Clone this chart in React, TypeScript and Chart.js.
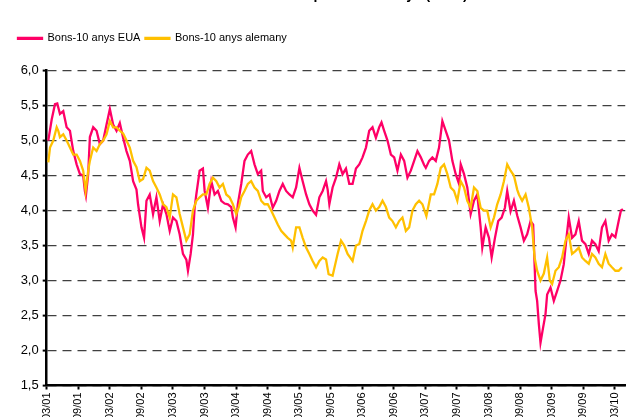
import { useEffect, useRef } from 'react';
import { Chart, registerables } from 'chart.js';

Chart.register(...registerables);

// ---- data ----
const TITLE = "Rendiment del deute públic a 10 anys (en %)";
const SERIES_NAMES = ['Bons-10 anys EUA', 'Bons-10 anys alemany'];
const SERIES_COLORS = ['#FF0066', '#FFC000'];

// x tick labels, one every 6 months starting 03/01
const X_TICK_LABELS = ['03/01', '09/01', '03/02', '09/02', '03/03', '09/03', '03/04', '09/04', '03/05', '09/05',
  '03/06', '09/06', '03/07', '09/07', '03/08', '09/08', '03/09', '09/09', '03/10'];
const Y_TICKS = [1.5, 2.0, 2.5, 3.0, 3.5, 4.0, 4.5, 5.0, 5.5, 6.0];

// months since 03/01
const US_MONTHS = [
  0.30, 0.95, 1.57, 2.01, 2.52, 3.15, 3.79, 4.42, 5.05, 5.69,
  6.32, 6.94, 7.26, 7.45, 7.89, 8.21, 8.84, 9.48, 10.11, 10.74,
  11.38, 12.01, 12.63, 13.28, 13.90, 14.53, 15.17, 15.80, 16.43, 17.07,
  17.37, 18.02, 18.51, 18.97, 19.59, 20.22, 20.86, 21.49, 22.12, 22.76,
  23.39, 24.01, 24.66, 25.28, 25.91, 26.55, 26.86, 27.37, 27.81, 28.13,
  28.45, 29.08, 29.70, 30.03, 30.65, 31.30, 31.92, 32.55, 33.19, 33.82,
  34.45, 35.09, 35.40, 35.91, 36.34, 36.99, 37.61, 38.24, 38.88, 39.51,
  40.14, 40.78, 41.09, 41.73, 42.36, 42.98, 43.63, 44.25, 44.88, 45.52,
  46.15, 46.78, 47.42, 48.05, 48.67, 49.32, 49.94, 50.57, 51.21, 51.84,
  52.47, 53.11, 53.42, 53.74, 54.36, 55.01, 55.63, 56.26, 56.90, 57.53,
  58.16, 58.80, 59.43, 60.05, 60.70, 61.32, 61.95, 62.59, 63.22, 63.66,
  64.17, 64.80, 65.44, 66.07, 66.69, 67.34, 67.97, 68.59, 69.23, 69.86,
  70.49, 71.13, 71.76, 72.08, 72.71, 73.33, 73.98, 74.60, 75.23, 75.87,
  76.50, 77.13, 77.77, 78.40, 78.72, 79.35, 79.97, 80.61, 81.24, 81.87,
  82.51, 82.82, 83.46, 84.09, 84.60, 85.23, 85.85, 86.50, 87.12, 87.56,
  88.20, 88.83, 89.46, 90.10, 90.73, 91.35, 92.00, 92.49, 92.95, 93.25,
  93.57, 93.89, 94.39, 94.84, 95.15, 95.79, 96.42, 97.04, 97.69, 98.31,
  98.83, 99.26, 99.89, 100.53, 101.16, 101.78, 102.43, 103.06, 103.68, 104.32,
  104.95, 105.58, 106.22, 106.85, 107.47, 108.12, 108.75, 109.18, 109.56,
];
const US_YIELDS = [
  5.00, 5.30, 5.52, 5.53, 5.38, 5.42, 5.19, 5.14, 4.85, 4.66,
  4.52, 4.50, 4.28, 4.21, 4.52, 5.05, 5.19, 5.14, 4.95, 5.00,
  5.23, 5.45, 5.23, 5.14, 5.25, 5.04, 4.85, 4.71, 4.42, 4.30,
  4.09, 3.76, 3.61, 4.14, 4.23, 3.95, 4.19, 3.85, 4.09, 3.95,
  3.71, 3.90, 3.85, 3.66, 3.38, 3.30, 3.14, 3.38, 3.66, 4.04,
  4.23, 4.57, 4.60, 4.28, 4.04, 4.42, 4.23, 4.28, 4.14, 4.10,
  4.09, 4.05, 3.90, 3.76, 4.09, 4.38, 4.71, 4.80, 4.85, 4.66,
  4.52, 4.57, 4.28, 4.19, 4.23, 4.04, 4.14, 4.28, 4.38, 4.28,
  4.23, 4.19, 4.33, 4.61, 4.42, 4.23, 4.09, 4.00, 3.94, 4.19,
  4.28, 4.42, 4.30, 4.09, 4.33, 4.47, 4.66, 4.52, 4.60, 4.38,
  4.38, 4.60, 4.66, 4.76, 4.90, 5.14, 5.19, 5.04, 5.19, 5.26,
  5.14, 5.00, 4.80, 4.76, 4.57, 4.80, 4.71, 4.47, 4.57, 4.71,
  4.85, 4.76, 4.65, 4.61, 4.71, 4.76, 4.71, 4.90, 5.28, 5.14,
  5.00, 4.71, 4.52, 4.38, 4.66, 4.52, 4.33, 3.95, 4.14, 4.23,
  3.76, 3.47, 3.76, 3.61, 3.33, 3.61, 3.85, 3.90, 4.04, 4.28,
  3.99, 4.14, 3.93, 3.76, 3.57, 3.66, 3.85, 3.80, 2.85, 2.71,
  2.38, 2.11, 2.33, 2.52, 2.80, 2.90, 2.71, 2.85, 3.00, 3.23,
  3.61, 3.90, 3.61, 3.66, 3.85, 3.57, 3.52, 3.38, 3.57, 3.52,
  3.42, 3.76, 3.85, 3.57, 3.66, 3.62, 3.85, 4.00, 4.02,
];

const DE_MONTHS = [
  0.30, 0.63, 1.25, 1.90, 2.20, 2.52, 3.15, 3.79, 4.42, 5.05,
  5.69, 6.32, 6.94, 7.40, 7.89, 8.21, 8.84, 9.48, 10.11, 10.74,
  11.38, 12.01, 12.63, 13.28, 13.90, 14.53, 15.17, 15.80, 16.43, 17.07,
  17.70, 18.32, 18.97, 19.59, 20.22, 20.86, 21.49, 22.12, 22.76, 23.39,
  24.01, 24.66, 25.28, 25.91, 26.55, 27.18, 27.81, 28.45, 29.08, 29.70,
  30.35, 30.97, 31.60, 32.25, 32.87, 33.50, 34.14, 34.77, 35.40, 36.04,
  36.53, 36.99, 37.61, 38.24, 38.88, 39.51, 40.14, 40.78, 41.41, 42.03,
  42.68, 43.31, 43.93, 44.58, 45.20, 45.83, 46.47, 46.78, 47.42, 48.05,
  48.67, 49.32, 49.94, 50.57, 51.21, 51.84, 52.47, 53.11, 53.60, 54.36,
  55.31, 55.96, 56.58, 57.21, 58.16, 58.80, 59.43, 60.05, 60.70, 61.32,
  61.95, 62.59, 63.22, 63.85, 64.49, 65.12, 65.74, 66.39, 67.01, 67.64,
  68.29, 68.91, 69.54, 70.18, 70.81, 71.44, 72.19, 73.03, 73.65, 74.28,
  74.92, 75.55, 76.18, 76.82, 77.45, 78.07, 78.72, 79.35, 79.97, 80.61,
  81.24, 81.87, 82.51, 83.14, 83.76, 84.41, 85.04, 85.66, 86.31, 86.93,
  87.56, 88.20, 88.83, 89.46, 89.78, 90.40, 91.05, 91.67, 92.30, 92.76,
  93.25, 93.89, 94.52, 95.15, 95.66, 96.10, 96.74, 97.37, 98.00, 98.64,
  99.26, 99.89, 100.53, 101.16, 101.78, 102.43, 103.06, 103.68, 104.32, 104.95,
  105.58, 106.22, 106.85, 107.47, 108.12, 108.75, 109.37,
];
const DE_YIELDS = [
  4.69, 4.90, 5.00, 5.19, 5.14, 5.05, 5.09, 5.00, 4.90, 4.80,
  4.80, 4.71, 4.57, 4.28, 4.57, 4.71, 4.90, 4.85, 4.95, 5.00,
  5.09, 5.28, 5.19, 5.19, 5.14, 5.10, 5.00, 4.90, 4.71, 4.62,
  4.42, 4.45, 4.61, 4.57, 4.42, 4.33, 4.23, 4.09, 4.05, 3.90,
  4.23, 4.19, 3.95, 3.76, 3.57, 3.66, 4.00, 4.14, 4.19, 4.23,
  4.23, 4.38, 4.47, 4.42, 4.33, 4.38, 4.23, 4.19, 4.09, 3.95,
  4.05, 4.19, 4.28, 4.38, 4.42, 4.33, 4.28, 4.14, 4.09, 4.09,
  4.00, 3.90, 3.80, 3.71, 3.66, 3.61, 3.57, 3.47, 3.76, 3.76,
  3.61, 3.47, 3.38, 3.28, 3.19, 3.28, 3.33, 3.30, 3.09, 3.07,
  3.38, 3.57, 3.50, 3.38, 3.28, 3.50, 3.52, 3.71, 3.85, 4.00,
  4.09, 4.00, 4.05, 4.14, 4.05, 3.90, 3.85, 3.76, 3.85, 3.90,
  3.71, 3.76, 4.00, 4.09, 4.14, 4.09, 3.92, 4.23, 4.23, 4.38,
  4.61, 4.66, 4.52, 4.33, 4.28, 4.14, 4.42, 4.33, 4.14, 4.04,
  4.33, 4.28, 4.04, 4.00, 4.00, 3.76, 3.90, 4.09, 4.23, 4.42,
  4.66, 4.57, 4.50, 4.30, 4.23, 4.14, 4.23, 4.04, 3.76, 3.33,
  3.14, 3.00, 3.10, 3.33, 3.00, 2.95, 3.14, 3.19, 3.33, 3.57,
  3.66, 3.38, 3.42, 3.47, 3.33, 3.28, 3.24, 3.38, 3.33, 3.24,
  3.19, 3.38, 3.24, 3.19, 3.14, 3.14, 3.19,
];

const X_MAX = 110;

const FONT = "'Liberation Sans', Arial, sans-serif";

export default function App() {
  const ref = useRef<HTMLCanvasElement | null>(null);

  useEffect(() => {
    if (!ref.current) return;
    const legendGap = {
      id: 'legendGap',
      afterInit(chart: any) {
        const lg = chart.legend;
        if (!lg) return;
        const orig = lg.fit;
        lg.fit = function (this: any) {
          orig.call(this);
          this.height += 16.7;
        };
      },
    };

    const chart = new Chart(ref.current, {
      type: 'line',
      data: {
        datasets: [
          {
            label: SERIES_NAMES[0],
            data: US_MONTHS.map((m, i) => ({ x: m, y: US_YIELDS[i] })),
            borderColor: SERIES_COLORS[0],
            backgroundColor: SERIES_COLORS[0],
            borderWidth: 2.3,
            pointRadius: 0,
            tension: 0,
            fill: false,
            order: 1,
          },
          {
            label: SERIES_NAMES[1],
            data: DE_MONTHS.map((m, i) => ({ x: m, y: DE_YIELDS[i] })),
            borderColor: SERIES_COLORS[1],
            backgroundColor: SERIES_COLORS[1],
            borderWidth: 2.3,
            pointRadius: 0,
            tension: 0,
            fill: false,
            order: 0,
          },
        ],
      },
      options: {
        animation: false,
        responsive: true,
        maintainAspectRatio: false,
        devicePixelRatio: 1,
        layout: { padding: { left: 13, right: 4.4, top: 0, bottom: 0 } },
        plugins: {
          title: {
            display: true,
            text: TITLE,
            color: '#000',
            font: { family: FONT, size: 14, weight: 'bold', lineHeight: 0.85 },
            padding: { top: 0, bottom: 27 },
          },
          legend: {
            display: true,
            position: 'top',
            align: 'start',
            labels: {
              boxWidth: 24,
              boxHeight: 1,
              padding: 5,
              color: '#000',
              font: { family: FONT, size: 11 },
              sort: (a: any, b: any) => a.datasetIndex - b.datasetIndex,
            },
          },
          tooltip: { enabled: false },
        },
        scales: {
          x: {
            type: 'linear',
            min: 0,
            max: X_MAX,
            afterFit: (scale: any) => { scale.height = 63.5; },
            afterBuildTicks: (scale: any) => {
              scale.ticks = X_TICK_LABELS.map((_, i) => ({ value: i * 6 }));
            },
            ticks: {
              autoSkip: false,
              maxRotation: 90,
              minRotation: 90,
              padding: 3,
              color: '#000',
              font: { family: FONT, size: 11 },
              callback: (v: any) => X_TICK_LABELS[Math.round(Number(v) / 6)] ?? '',
            },
            grid: {
              drawOnChartArea: false,
              drawTicks: true,
              tickLength: 4,
              tickColor: '#000',
              tickWidth: 2,
            },
            border: { display: true, color: '#000', width: 2.5 },
          },
          y: {
            min: 1.5,
            max: 6,
            afterFit: (scale: any) => { scale.width = 33.7; },
            afterBuildTicks: (scale: any) => {
              scale.ticks = Y_TICKS.map((v) => ({ value: v }));
            },
            ticks: {
              padding: 4,
              color: '#000',
              font: { family: FONT, size: 13 },
              callback: (v: any) => Number(v).toFixed(1).replace('.', ','),
            },
            grid: {
              color: '#404040',
              lineWidth: 1.2,
              drawTicks: true,
              tickLength: 4,
              tickColor: '#000',
              tickWidth: 2,
              tickBorderDash: [],
            },
            border: { display: true, color: '#000', width: 2.5, dash: [9, 6] },
          },
        },
      },
      plugins: [legendGap],
    } as any);

    return () => chart.destroy();
  }, []);

  return (
    <div style={{ position: 'fixed', left: 0, top: 0, width: 631, height: 417, overflow: 'hidden', background: '#fff' }}>
      <div style={{ position: 'absolute', left: 0, top: -11, width: 631, height: 460 }}>
        <canvas ref={ref} />
      </div>
    </div>
  );
}
